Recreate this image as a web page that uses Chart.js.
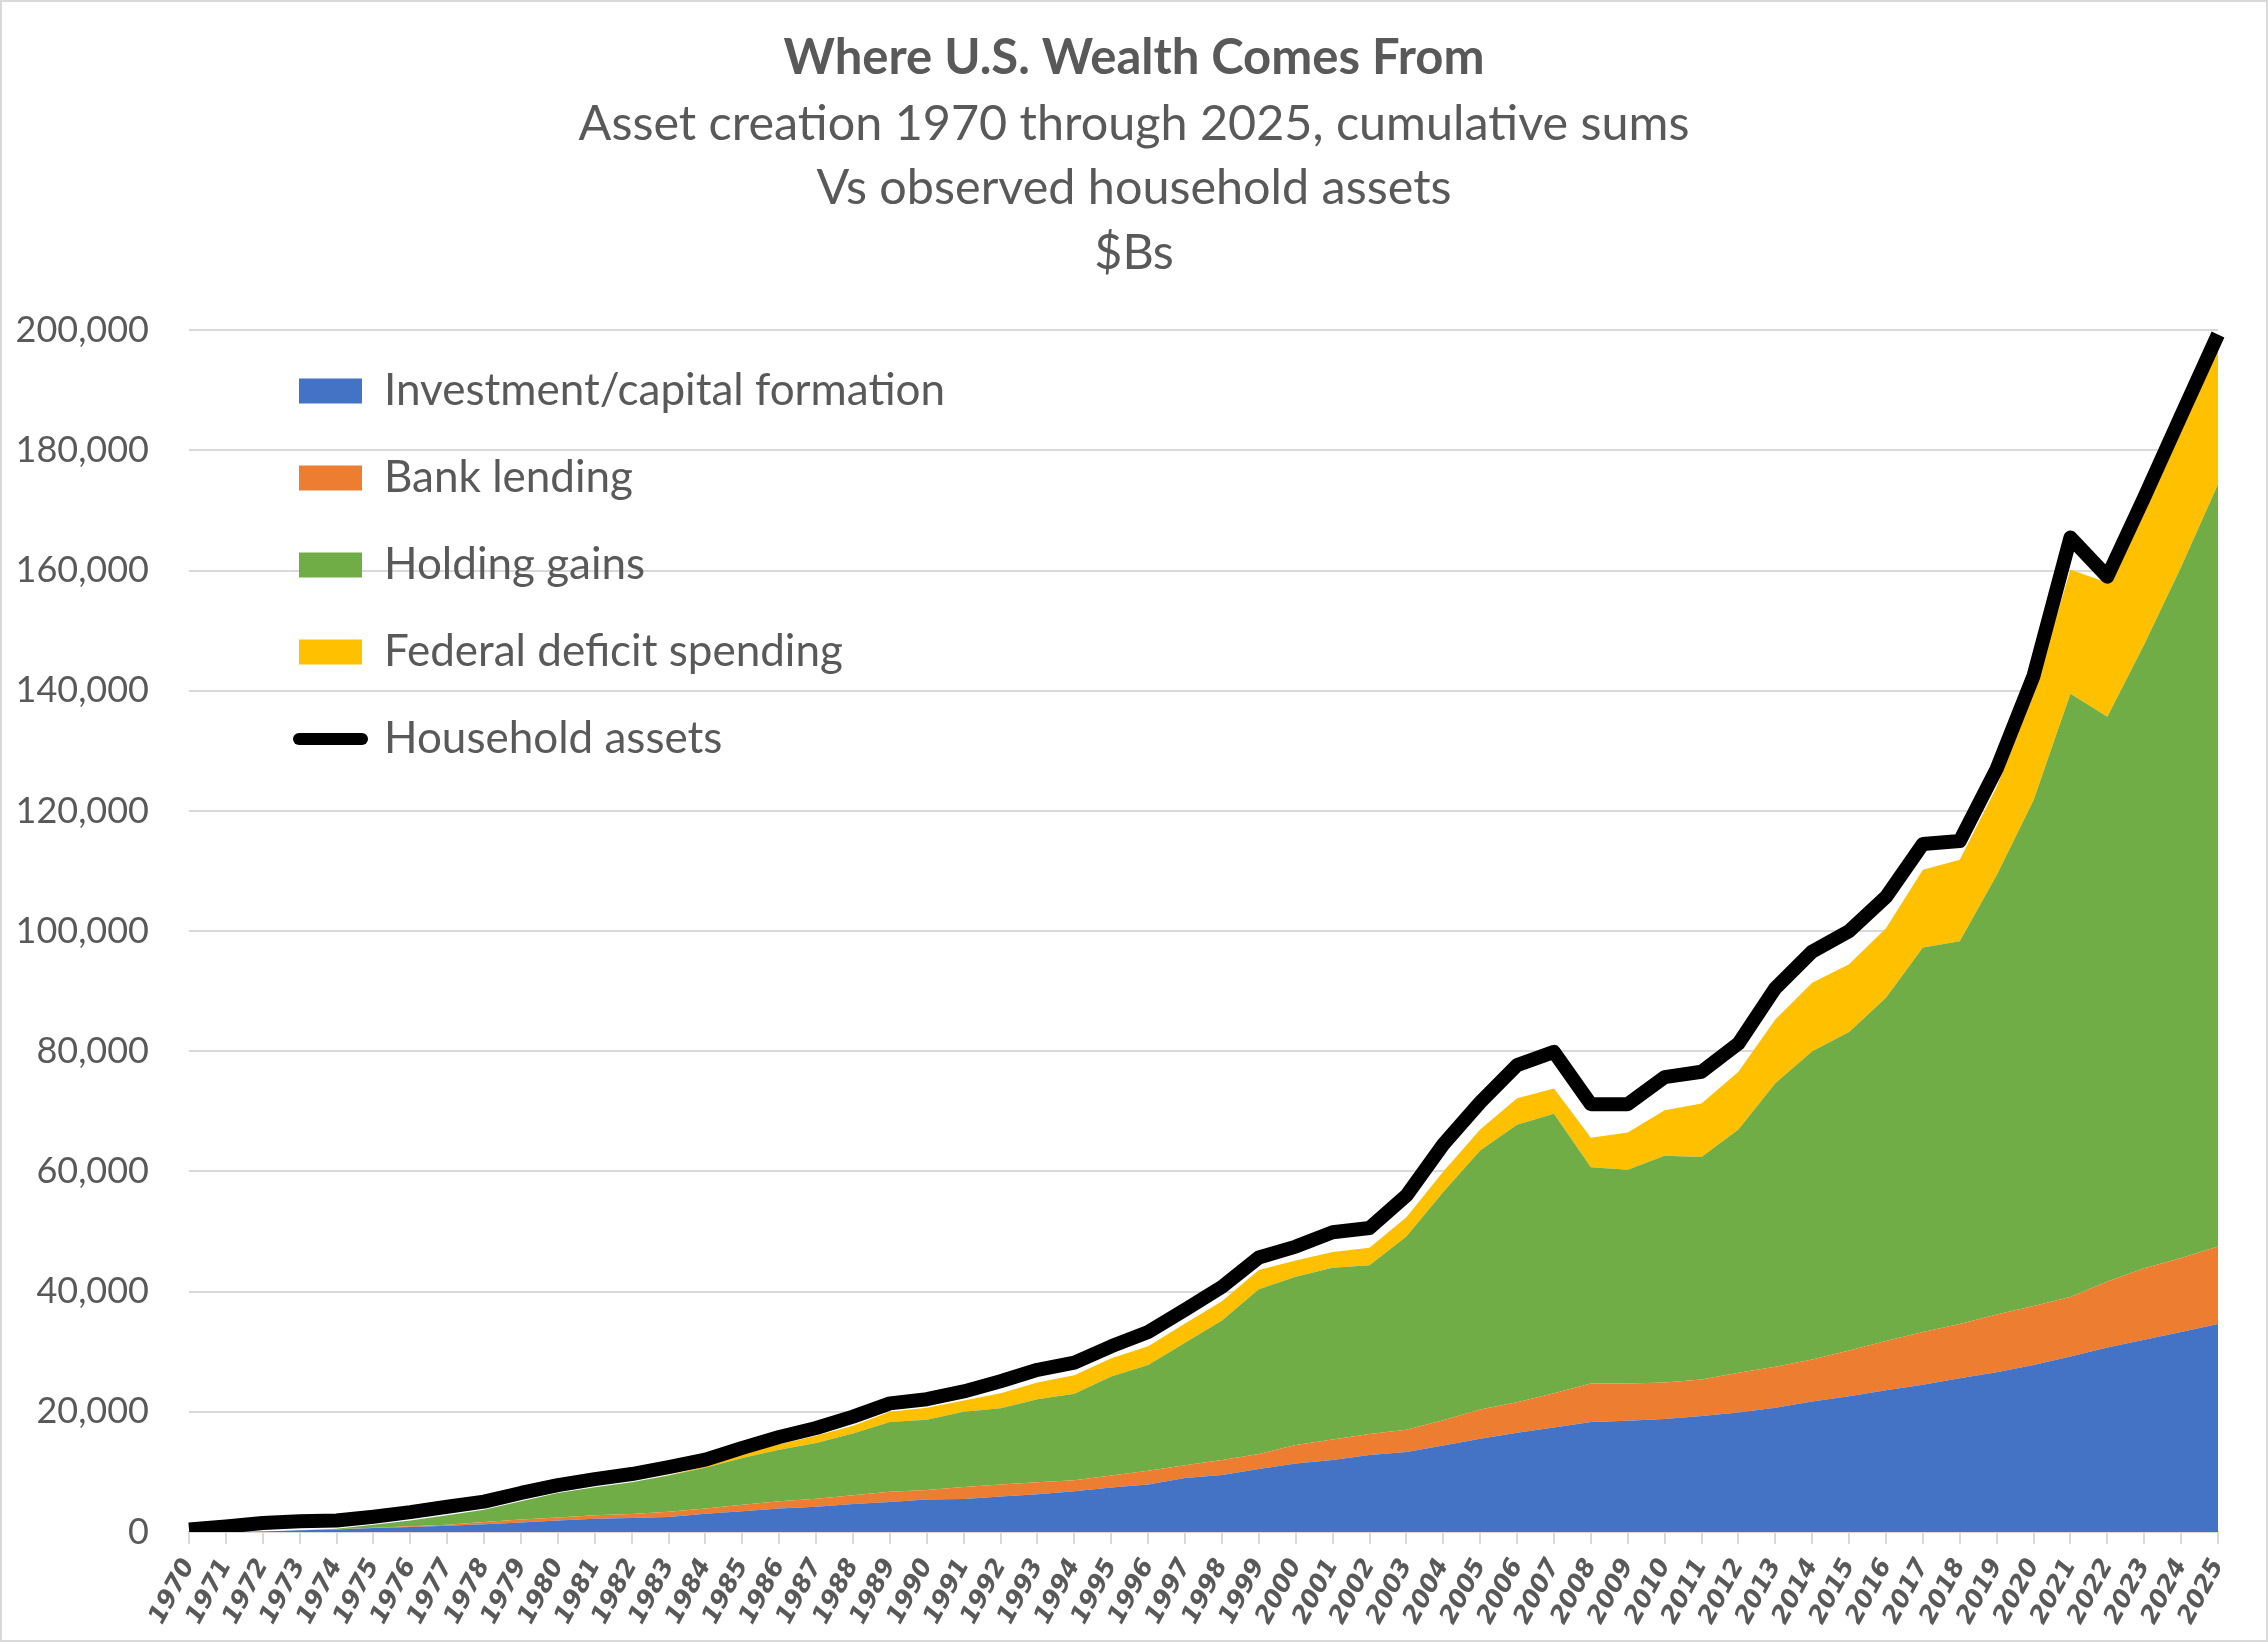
<!DOCTYPE html>
<html>
<head>
<meta charset="utf-8">
<script src="https://cdn.jsdelivr.net/npm/chart.js@4.4.1/dist/chart.umd.min.js"></script>
<style>
  html, body { margin: 0; padding: 0; background: #fff; }
  #wrap { width: 2268px; height: 1642px; }
</style>
</head>
<body>
<div id="wrap"><canvas id="wealthChart" width="2268" height="1642"></canvas></div>
<script>
// Du lieu doc tu hinh goc ($Bs, moi nam 1970 - 2025)
const years = ['1970','1971','1972','1973','1974','1975','1976','1977','1978','1979',
  '1980','1981','1982','1983','1984','1985','1986','1987','1988','1989',
  '1990','1991','1992','1993','1994','1995','1996','1997','1998','1999',
  '2000','2001','2002','2003','2004','2005','2006','2007','2008','2009',
  '2010','2011','2012','2013','2014','2015','2016','2017','2018','2019',
  '2020','2021','2022','2023','2024','2025'];

const investment = [0,0,100,300,400,650,850,1050,1300,1600,
  1900,2200,2350,2500,3050,3450,3900,4200,4650,5000,
  5400,5500,5900,6300,6800,7400,7900,9000,9500,10500,
  11400,12000,12800,13300,14400,15500,16500,17400,18300,18500,
  18800,19300,19900,20700,21700,22600,23600,24500,25600,26600,
  27800,29200,30700,32000,33300,34600];

const bankLending = [0,0,0,0,50,50,100,150,350,500,
  500,600,650,850,850,1100,1200,1350,1450,1700,
  1600,2000,2000,2000,1800,2000,2300,2100,2500,2500,
  3100,3400,3500,3700,4200,4900,5100,5700,6400,6200,
  6100,6100,6600,6800,7000,7600,8200,8800,9000,9600,
  9800,9900,11000,11900,12300,12900];

const holdingGains = [0,0,0,0,100,500,950,1600,2050,3000,
  4100,4650,5300,6050,6800,7750,8600,9250,10300,11600,
  11700,12500,12700,13800,14400,16500,17600,20400,23200,27400,
  28000,28600,28100,32200,38000,43100,46200,46500,36000,35600,
  37700,37000,40500,47200,51300,53000,57100,64000,63700,73100,
  84200,100400,94000,103800,115000,126900];

const deficitSpending = [0,0,0,0,0,0,0,0,0,0,
  0,0,0,50,200,600,900,1200,1300,1700,
  2000,1900,2500,2800,3100,3000,3100,3200,3200,3200,
  2700,2600,2900,3200,3400,3500,4400,4200,4900,6200,
  7600,8900,9600,10600,11400,11300,11600,12900,13600,14700,
  17700,20700,22300,22600,23200,24000];

const householdAssets = [400,900,1500,1800,1900,2550,3300,4200,5050,6500,
  7800,8800,9650,10800,12050,14000,15800,17300,19200,21400,
  22100,23400,25100,27000,28200,30900,33300,37000,40800,45700,
  47500,49900,50600,56000,64500,71500,77700,79900,71200,71200,
  75700,76600,81300,90500,96600,100000,105700,114500,115000,127000,
  142500,165500,159000,172200,185800,199300];

const yTicks = [0,20000,40000,60000,80000,100000,120000,140000,160000,180000,200000];

const textGrey = '#595959';
const mainFont = "Lato, 'Open Sans', sans-serif";

// vien mong quanh bieu do + nen trang
const chartFrame = {
  id: 'chartFrame',
  beforeDraw(chart) {
    const ctx = chart.ctx;
    ctx.save();
    ctx.fillStyle = '#fff';
    ctx.fillRect(0, 0, chart.width, chart.height);
    ctx.strokeStyle = '#d9d9d9';
    ctx.lineWidth = 2;
    ctx.strokeRect(1, 1, chart.width - 2, chart.height - 2);
    ctx.restore();
  },
  afterLayout(chart) {
    // dua chu thich vao trong vung ve, goc tren ben trai
    chart.legend.left = 256;
    chart.legend.top = 326;
  }
};

function areaSet(label, data, color, fill) {
  return {
    label: label,
    data: data,
    backgroundColor: color,
    borderColor: color,
    borderWidth: 0,
    pointRadius: 0,
    pointHoverRadius: 0,
    fill: fill,
    stack: 'sources',
    order: 1
  };
}

const ctx = document.getElementById('wealthChart').getContext('2d');
new Chart(ctx, {
  type: 'line',
  data: {
    labels: years,
    datasets: [
      areaSet('Investment/capital formation', investment, '#4472C4', 'origin'),
      areaSet('Bank lending', bankLending, '#ED7D31', '-1'),
      areaSet('Holding gains', holdingGains, '#70AD47', '-1'),
      areaSet('Federal deficit spending', deficitSpending, '#FFC000', '-1'),
      {
        label: 'Household assets',
        data: householdAssets,
        borderColor: '#000',
        backgroundColor: '#000',
        borderWidth: 14,
        borderJoinStyle: 'round',
        borderCapStyle: 'butt',
        pointRadius: 0,
        pointHoverRadius: 0,
        fill: false,
        stack: 'observed',
        order: 0
      }
    ]
  },
  options: {
    responsive: false,
    devicePixelRatio: 1,
    animation: false,
    layout: { padding: 0 },
    plugins: {
      title: {
        display: true,
        text: 'Where U.S. Wealth Comes From',
        color: textGrey,
        font: { family: mainFont, size: 49, weight: 'bold', lineHeight: 1.2 },
        padding: { top: 29, bottom: 4 }
      },
      subtitle: {
        display: true,
        text: ['Asset creation 1970 through 2025, cumulative sums', 'Vs observed household assets', '$Bs'],
        color: textGrey,
        font: { family: mainFont, size: 48.5, lineHeight: 1.33 },
        padding: { top: 0, bottom: 45 }
      },
      legend: {
        position: 'chartArea',
        align: 'start',
        labels: {
          color: textGrey,
          font: { family: mainFont, size: 44 },
          boxWidth: 63,
          boxHeight: 25,
          usePointStyle: true,
          pointStyleWidth: 63,
          padding: 43,
          sort: (a, b) => a.datasetIndex - b.datasetIndex,
          generateLabels(chart) {
            return chart.data.datasets.map((ds, i) => {
              const isLine = ds.fill === false;
              return {
                text: ds.label,
                fillStyle: ds.backgroundColor,
                strokeStyle: ds.backgroundColor,
                lineWidth: isLine ? 12 : 0,
                lineCap: 'round',
                pointStyle: isLine ? 'line' : 'rect',
                hidden: false,
                datasetIndex: i,
                fontColor: textGrey
              };
            });
          }
        }
      },
      tooltip: { enabled: false }
    },
    scales: {
      x: {
        offset: false,
        grid: {
          drawOnChartArea: false,
          color: '#d9d9d9',
          lineWidth: 2,
          tickLength: 12
        },
        border: { color: '#d9d9d9', width: 2 },
        ticks: {
          autoSkip: false,
          minRotation: 62,
          maxRotation: 62,
          padding: 10,
          color: textGrey,
          font: { family: "'DejaVu Sans'", size: 25, weight: 'bold', style: 'italic' }
        },
        afterFit(scale) { scale.height = 110; }
      },
      y: {
        stacked: true,
        min: 0,
        max: 200000,
        afterBuildTicks(scale) { scale.ticks = yTicks.map(v => ({ value: v })); },
        grid: { color: '#d9d9d9', lineWidth: 2, drawTicks: false },
        border: { display: false },
        ticks: {
          color: textGrey,
          padding: 40,
          font: { family: mainFont, size: 36 },
          callback: v => v.toLocaleString('en-US')
        },
        afterFit(scale) { scale.width = 189; }
      },
      // truc phai an, chi de giu le phai 50px
      yRight: {
        position: 'right',
        display: true,
        grid: { display: false },
        border: { display: false },
        ticks: { display: false },
        afterFit(scale) { scale.width = 50; }
      }
    }
  },
  plugins: [chartFrame]
});
</script>
</body>
</html>
